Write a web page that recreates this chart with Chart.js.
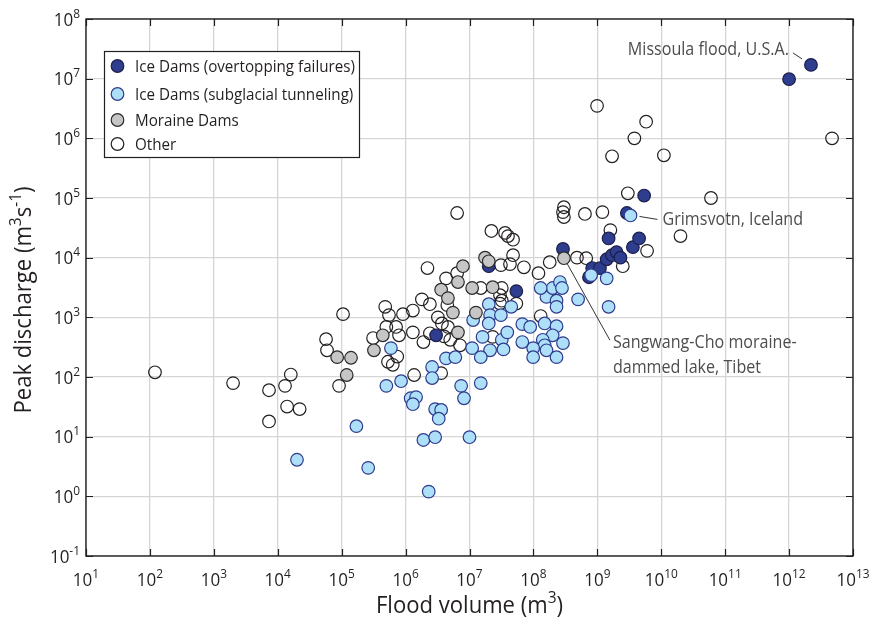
<!DOCTYPE html>
<html>
<head>
<meta charset="utf-8">
<script src="https://cdn.jsdelivr.net/npm/chart.js@4.4.0/dist/chart.umd.min.js"></script>
<style>
  html, body { margin: 0; padding: 0; background: #fff; }
</style>
</head>
<body>
<canvas id="chart" width="873" height="628"></canvas>
<script>
// [flood volume m3, peak discharge m3/s]
const overtoppingPts = [
  [3.0e6, 500], [5.4e7, 2750], [2.9e8, 1.4e4], [2.0e7, 7200], [7.4e8, 4700], [8.3e8, 6700],
  [1.1e9, 6700], [1.4e9, 9400], [1.7e9, 1.1e4], [2.0e9, 1.24e4], [2.3e9, 1.0e4], [3.6e9, 1.5e4],
  [4.5e9, 2.1e4], [1.5e9, 2.1e4], [5.4e9, 1.1e5], [2.9e9, 5.6e4], [1.0e12, 9.8e6], [2.2e12, 1.7e7]
];
const tunnelingPts = [
  [2.0e4, 4.1], [1.7e5, 15], [2.6e5, 3.0], [2.3e6, 1.2], [5.0e5, 71], [8.5e5, 85], [5.9e5, 305],
  [2.6e6, 147], [2.6e6, 96], [4.3e6, 205], [1.2e6, 44], [1.46e6, 46], [1.3e6, 35], [2.9e6, 29],
  [3.6e6, 28], [3.3e6, 20], [1.9e6, 8.8], [2.9e6, 9.8], [3.3e9, 5.1e4], [1.6e8, 2200], [2.0e8, 3100],
  [2.6e8, 3900], [2.8e8, 3100], [2.3e8, 1900], [2.3e8, 1500], [1.3e8, 3100], [5.0e8, 2000],
  [8.0e8, 5100], [1.4e9, 4500], [1.5e9, 1500], [1.5e8, 790], [2.3e8, 710], [2.0e8, 500], [1.4e8, 420],
  [2.9e8, 370], [1.5e8, 340], [1.6e8, 280], [9.9e7, 305], [2.3e8, 215], [9.9e7, 215], [6.7e7, 770],
  [8.9e7, 690], [6.7e7, 385], [4.5e7, 1500], [2.0e7, 1660], [2.1e7, 1090], [3.1e7, 1090],
  [1.14e7, 900], [2.0e7, 790], [1.6e7, 470], [3.2e7, 420], [3.9e7, 560], [1.1e7, 305], [2.1e7, 280],
  [3.4e7, 290], [1.5e7, 215], [6.0e6, 215], [1.0e7, 9.8], [7.4e6, 71], [8.2e6, 44], [1.5e7, 79]
];
const morainePts = [
  [8.5e4, 215], [1.4e5, 210], [1.2e5, 108], [3.2e5, 280], [4.4e5, 500], [3.6e6, 2900], [4.6e6, 2100],
  [7.9e6, 7200], [6.6e6, 3900], [5.5e6, 1200], [6.6e6, 560], [1.1e7, 3100], [2.3e7, 3200],
  [1.75e7, 1.0e4], [2.0e7, 8700], [3.0e8, 9800], [1.26e7, 1200]
];
const otherPts = [
  [1.2e2, 120], [2.0e3, 79], [7.3e3, 60], [7.3e3, 18], [1.3e4, 71], [1.6e4, 110], [1.4e4, 32], [2.2e4, 29],
  [5.7e4, 430], [5.9e4, 280], [9.1e4, 71], [1.05e5, 1130], [3.1e5, 450], [5.0e5, 690], [7.1e5, 690],
  [7.9e5, 500], [1.3e6, 560], [4.8e5, 1500], [5.5e5, 1090], [9.1e5, 1130], [1.3e6, 1300], [1.8e6, 2000],
  [2.4e6, 1660], [2.2e6, 6700], [4.3e6, 4500], [3.2e6, 1000], [3.7e6, 790], [1.9e6, 385], [2.4e6, 540],
  [4.0e6, 480], [7.4e5, 220], [5.3e5, 180], [6.3e5, 160], [1.36e6, 108], [3.6e6, 116],
  [6.4e6, 5.6e4], [2.2e7, 2.8e4], [3.6e7, 2.6e4], [4.0e7, 2.3e4], [4.8e7, 2.0e4], [3.0e8, 7.0e4],
  [2.9e8, 5.8e4], [3.0e8, 4.8e4], [6.4e8, 5.4e4], [1.2e9, 5.8e4], [9.9e8, 3.5e6], [1.7e9, 5.0e5],
  [3.0e9, 1.2e5], [3.8e9, 1.0e6], [5.8e9, 1.9e6], [1.1e10, 5.2e5], [2.0e10, 2.3e4], [6.0e10, 1.0e5],
  [4.7e12, 1.0e6], [4.8e8, 1.0e4], [6.7e8, 9800], [7.1e7, 6900], [1.2e8, 5500], [1.8e8, 8400],
  [3.1e7, 7500], [4.3e7, 7800], [4.8e7, 1.1e4], [1.6e9, 2.9e4], [2.5e9, 7200], [1.3e8, 1050],
  [3.0e7, 1700], [5.4e7, 1700], [3.2e7, 1900], [3.0e7, 2350], [3.2e7, 3100], [1.5e7, 3100],
  [6.4e6, 5500], [4.5e6, 1600], [4.6e6, 690], [5.0e6, 420], [7.1e6, 340], [2.3e7, 470], [6.0e9, 1.3e4]
];

const xTickPowers = [1, 2, 3, 4, 5, 6, 7, 8, 9, 10, 11, 12, 13];
const yTickPowers = [-1, 0, 1, 2, 3, 4, 5, 6, 7, 8];
const seriesNames = [
  'Ice Dams (overtopping failures)',
  'Ice Dams (subglacial tunneling)',
  'Moraine Dams',
  'Other'
];

const FONT = '"Open Sans", sans-serif';
const SX = 0.92; // Open Sans is a little wider than the original face
const TEXT = '#231f20';

const styles = {
  overtopping: { bg: '#2e3d8e', border: '#1b1f4a' },
  tunneling: { bg: '#ade0f8', border: '#2e3a8c' },
  moraine: { bg: '#c6c6c6', border: '#2b2b2b' },
  other: { bg: 'rgba(255,255,255,0)', border: '#231f20' }
};
const R = 6.3;

const toXY = pts => pts.map(p => ({ x: p[0], y: p[1] }));

function ds(label, pts, st) {
  return {
    label, data: toXY(pts),
    backgroundColor: st.bg, borderColor: st.border,
    pointRadius: R, pointHoverRadius: R, borderWidth: 1.2
  };
}

// draw text narrowed horizontally; returns drawn width
function drawText(ctx, str, x, y, size, align, color) {
  ctx.font = size + 'px ' + FONT;
  const w = ctx.measureText(str).width * SX;
  const x0 = align === 'right' ? x - w : align === 'center' ? x - w / 2 : x;
  ctx.save();
  ctx.translate(x0, y);
  ctx.scale(SX, 1);
  ctx.textAlign = 'left';
  ctx.textBaseline = 'alphabetic';
  ctx.fillStyle = color || TEXT;
  ctx.fillText(str, 0, 0);
  ctx.restore();
  return w;
}

function measure(ctx, str, size) {
  ctx.font = size + 'px ' + FONT;
  return ctx.measureText(str).width * SX;
}

// rich text: segments with optional superscript
const SUP = 0.7;
function richWidth(ctx, segs, size) {
  return segs.reduce((s, g) => s + measure(ctx, g.t, g.sup ? size * SUP : size), 0);
}
function drawRich(ctx, segs, x, y, size, align) {
  const w = richWidth(ctx, segs, size);
  let cx = align === 'right' ? x - w : align === 'center' ? x - w / 2 : x;
  segs.forEach(g => {
    const s = g.sup ? size * SUP : size;
    cx += drawText(ctx, g.t, cx, g.sup ? y - size * 0.42 : y, s, 'left');
  });
}

const powSegs = p => [{ t: '10' }, { t: String(p), sup: true }];

const decor = {
  id: 'decor',
  afterDraw(chart) {
    const { ctx, chartArea: a, scales: { x, y } } = chart;
    ctx.save();

    // frame + inward ticks
    ctx.strokeStyle = TEXT;
    ctx.lineWidth = 1.4;
    ctx.strokeRect(a.left, a.top, a.right - a.left, a.bottom - a.top);
    ctx.lineWidth = 1.2;
    ctx.beginPath();
    xTickPowers.forEach(p => {
      const px = Math.round(x.getPixelForValue(10 ** p)) + 0.5;
      ctx.moveTo(px, a.bottom); ctx.lineTo(px, a.bottom - 7);
      ctx.moveTo(px, a.top); ctx.lineTo(px, a.top + 7);
    });
    yTickPowers.forEach(p => {
      const py = Math.round(y.getPixelForValue(10 ** p)) + 0.5;
      ctx.moveTo(a.left, py); ctx.lineTo(a.left + 7, py);
      ctx.moveTo(a.right, py); ctx.lineTo(a.right - 7, py);
    });
    ctx.stroke();

    // tick labels
    xTickPowers.forEach(p => drawRich(ctx, powSegs(p), x.getPixelForValue(10 ** p), a.bottom + 30, 18.5, 'center'));
    yTickPowers.forEach(p => drawRich(ctx, powSegs(p), a.left - 6, y.getPixelForValue(10 ** p) + 6.5, 18.5, 'right'));

    // axis titles
    drawRich(ctx, [{ t: 'Flood volume (m' }, { t: '3', sup: true }, { t: ')' }], (a.left + a.right) / 2, 613, 24, 'center');
    ctx.save();
    ctx.translate(31, 300);
    ctx.rotate(-Math.PI / 2);
    drawRich(ctx, [{ t: 'Peak discharge (m' }, { t: '3', sup: true }, { t: 's' }, { t: '-1', sup: true }, { t: ')' }], 0, 0, 24, 'center');
    ctx.restore();

    // legend
    const lx = 104.5, ly = 51.5, lw = 255, lh = 106;
    ctx.fillStyle = '#fff';
    ctx.fillRect(lx, ly, lw, lh);
    ctx.strokeStyle = TEXT;
    ctx.lineWidth = 1.2;
    ctx.strokeRect(lx, ly, lw, lh);
    const rows = [66, 94, 120, 144];
    const keys = ['overtopping', 'tunneling', 'moraine', 'other'];
    keys.forEach((k, i) => {
      ctx.beginPath();
      ctx.arc(117.5, rows[i], R, 0, Math.PI * 2);
      ctx.fillStyle = k === 'other' ? '#fff' : styles[k].bg;
      ctx.fill();
      ctx.strokeStyle = styles[k].border;
      ctx.lineWidth = 1.2;
      ctx.stroke();
      drawText(ctx, seriesNames[i], 135, rows[i] + 6, 16.5, 'left');
    });

    // annotations
    const GREY = '#4d4d4d';
    ctx.strokeStyle = '#333';
    ctx.lineWidth = 1;
    const mis = { x: x.getPixelForValue(2.2e12), y: y.getPixelForValue(1.7e7) };
    ctx.beginPath(); ctx.moveTo(mis.x - 18, mis.y - 12); ctx.lineTo(mis.x - 9, mis.y - 6); ctx.stroke();
    drawText(ctx, 'Missoula flood, U.S.A.', mis.x - 22, mis.y - 10, 17.5, 'right', GREY);

    const gri = { x: x.getPixelForValue(3.3e9), y: y.getPixelForValue(5.1e4) };
    ctx.beginPath(); ctx.moveTo(gri.x + 9, gri.y + 1); ctx.lineTo(gri.x + 27, gri.y + 4); ctx.stroke();
    drawText(ctx, 'Grimsvotn, Iceland', gri.x + 32, gri.y + 10, 17.5, 'left', GREY);

    const san = { x: x.getPixelForValue(3.0e8), y: y.getPixelForValue(9800) };
    ctx.beginPath(); ctx.moveTo(san.x + 3, san.y + 5); ctx.lineTo(san.x + 46, san.y + 82); ctx.stroke();
    drawText(ctx, 'Sangwang-Cho moraine-', san.x + 49, san.y + 90, 17.5, 'left', GREY);
    drawText(ctx, 'dammed lake, Tibet', san.x + 49, san.y + 115, 17.5, 'left', GREY);

    ctx.restore();
  }
};

new Chart(document.getElementById('chart'), {
  type: 'scatter',
  data: {
    // first dataset is painted last (on top)
    datasets: [
      ds(seriesNames[2], morainePts, styles.moraine),
      ds(seriesNames[1], tunnelingPts, styles.tunneling),
      ds(seriesNames[0], overtoppingPts, styles.overtopping),
      ds(seriesNames[3], otherPts, styles.other)
    ]
  },
  options: {
    responsive: false,
    animation: false,
    devicePixelRatio: 1,
    layout: { padding: { top: 19, right: 20, left: 0, bottom: 0 } },
    plugins: { legend: { display: false }, tooltip: { enabled: false } },
    scales: {
      x: {
        type: 'logarithmic', min: 10, max: 1e13,
        afterBuildTicks: s => { s.ticks = xTickPowers.map(p => ({ value: 10 ** p })); },
        afterFit: s => { s.height = 72; },
        ticks: { display: false },
        grid: { color: '#d5d5d5', lineWidth: 1.3, drawTicks: false },
        border: { display: false }
      },
      y: {
        type: 'logarithmic', min: 0.1, max: 1e8,
        afterBuildTicks: s => { s.ticks = yTickPowers.map(p => ({ value: 10 ** p })); },
        afterFit: s => { s.width = 86; },
        ticks: { display: false },
        grid: { color: '#d5d5d5', lineWidth: 1.3, drawTicks: false },
        border: { display: false }
      }
    }
  },
  plugins: [decor]
});
</script>
</body>
</html>
